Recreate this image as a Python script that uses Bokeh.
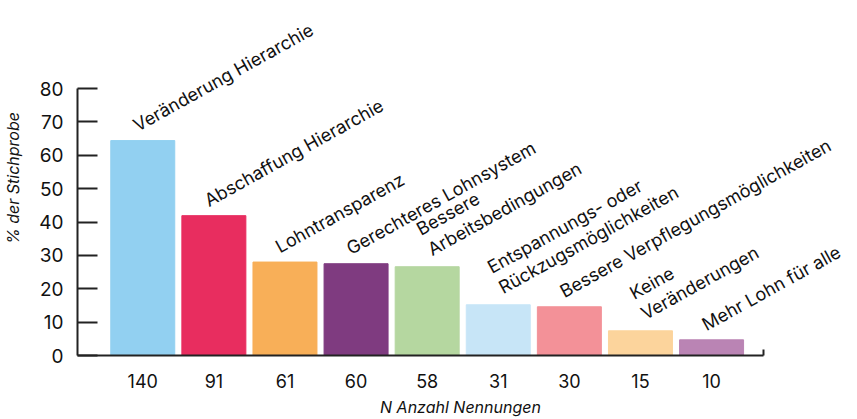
from bokeh.plotting import figure
from bokeh.models import ColumnDataSource, LabelSet, FixedTicker, Range1d, Title
from bokeh.core.properties import value
from bokeh.embed import file_html
from bokeh.resources import INLINE
import math

categories = ["Veränderung Hierarchie", "Abschaffung Hierarchie", "Lohntransparenz",
              "Gerechteres Lohnsystem", "Bessere\nArbeitsbedingungen",
              "Entspannungs- oder\nRückzugsmöglichkeiten",
              "Bessere Verpflegungsmöglichkeiten", "Keine\nVeränderungen",
              "Mehr Lohn für alle"]
percent = [64.4, 41.9, 28.0, 27.5, 26.6, 15.2, 14.6, 7.4, 4.7]
n_counts = ["140", "91", "61", "60", "58", "31", "30", "15", "10"]
y_ticks = [0, 10, 20, 30, 40, 50, 60, 70, 80]
colors = ["#92D0F1", "#E82D5F", "#F8AF58", "#7F3B80", "#B5D7A0",
          "#C7E5F7", "#F39198", "#FCD49C", "#BA84B4"]

FONT = "Inter"
xs = list(range(len(categories)))
# offsets of the rotated labels depend on their number of lines
n_lines = [c.count("\n") + 1 for c in categories]
x_offs = [-3 + 10 * (n - 1) for n in n_lines]
y_offs = [5 + 2 * (n - 1) for n in n_lines]
src = ColumnDataSource(dict(x=xs, top=percent, label=categories, color=colors,
                            xo=x_offs, yo=y_offs))

# layout constants (pixels)
FRAME_W, FRAME_H, TOP_GAP = 766, 355, 88
X0, X_AXIS_END, PX_PER_CAT = -0.918, 8.735, 71.1
y_end = FRAME_H * 80 / (FRAME_H - TOP_GAP)
x_end = X0 + FRAME_W / PX_PER_CAT

p = figure(frame_width=FRAME_W, frame_height=FRAME_H, output_backend="svg", toolbar_location=None,
           x_range=Range1d(X0, x_end), y_range=Range1d(0, y_end),
           min_border_left=0, min_border_right=0, min_border_top=0, min_border_bottom=0)
p.outline_line_color = None
p.grid.visible = False

p.vbar(x="x", top="top", width=0.9, bottom=0, color="color", source=src)

labels = LabelSet(x="x", y="top", text="label", source=src, angle=math.radians(29),
                  x_offset="xo", y_offset="yo", text_align="left", text_baseline="bottom",
                  text_font=value(FONT), text_font_size=value("18px"), text_line_height=1.1,
                  text_color="#111111")
p.add_layout(labels)

# y axis
ya = p.yaxis[0]
ya.bounds = (0, 80)
ya.ticker = FixedTicker(ticks=y_ticks, minor_ticks=[])
ya.major_tick_in = 20
ya.major_tick_out = 0
ya.minor_tick_line_color = None
ya.axis_line_width = 2
ya.major_tick_line_width = 2
ya.axis_line_color = "#222222"
ya.major_tick_line_color = "#222222"
ya.major_label_text_font = FONT
ya.major_label_text_font_size = "19px"
ya.major_label_text_color = "#111111"
ya.major_label_standoff = 14
ya.axis_label = "% der Stichprobe"
ya.axis_label_text_font = FONT
ya.axis_label_text_font_style = "italic"
ya.axis_label_text_font_size = "16px"
ya.axis_label_text_color = "#111111"
ya.axis_label_standoff = 13

# x axis
xa = p.xaxis[0]
xa.bounds = (X0, X_AXIS_END)
xa.ticker = FixedTicker(ticks=xs, minor_ticks=[X_AXIS_END])
xa.major_label_overrides = {i: n for i, n in zip(xs, n_counts)}
xa.major_tick_line_color = None
xa.minor_tick_in = 6
xa.minor_tick_out = 0
xa.minor_tick_line_width = 2
xa.minor_tick_line_color = "#222222"
xa.axis_line_width = 2
xa.axis_line_color = "#222222"
xa.major_label_text_font = FONT
xa.major_label_text_font_size = "18px"
xa.major_label_text_color = "#111111"
xa.major_label_standoff = 12

# x axis title, centred under the axis line rather than the (wider) frame
axis_mid_px = ((X0 + X_AXIS_END) / 2 - (X0 + x_end) / 2) * PX_PER_CAT
p.add_layout(Title(text="N Anzahl Nennungen", align="center", offset=axis_mid_px,
                   standoff=8, text_font=FONT, text_font_style="italic",
                   text_font_size="16px", text_color="#111111"), "below")

open("out.html", "w").write(file_html(p, INLINE))
